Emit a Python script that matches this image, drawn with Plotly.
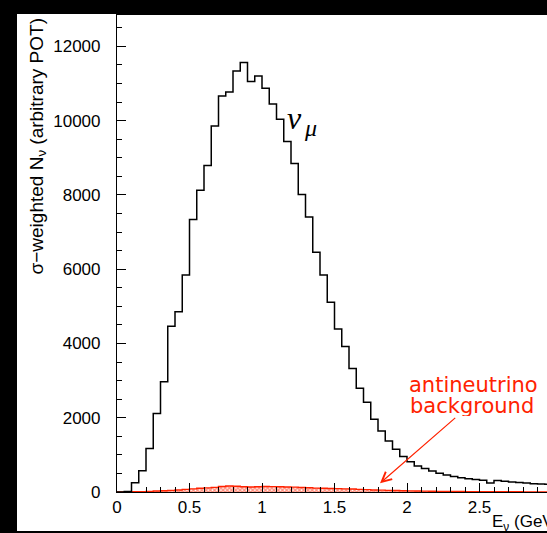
import plotly.graph_objects as go

# ---- data ----
bin_width = 0.05
bin_edges = [round(i * 0.05, 2) for i in range(61)]  # 0 .. 3.0 GeV

numu_counts = [0, 15, 250, 575, 1168, 2115, 2970, 4460, 4850, 5845,
               7336, 8126, 8792, 9853, 10662, 10770, 11336, 11562, 11050, 11201,
               10870, 10450, 10033, 9440, 8846, 8010, 7405, 6455, 5840, 5106,
               4388, 3919, 3325, 2795, 2419, 1961, 1645, 1375, 1150, 953,
               812, 700, 630, 566, 503, 460, 420, 385, 360, 335,
               315, 240, 310, 290, 270, 255, 240, 225, 215, 210]

antinu_counts = [0, 0, 5, 10, 15, 25, 35, 45, 55, 70,
                 85, 100, 110, 125, 150, 160, 155, 140, 135, 140,
                 150, 145, 140, 135, 130, 120, 115, 105, 100, 95,
                 90, 85, 80, 70, 65, 55, 50, 45, 40, 35,
                 30, 27, 24, 21, 18, 16, 14, 12, 11, 10,
                 8, 7, 7, 6, 5, 5, 4, 4, 3, 3]

x_tick_vals = [0, 0.5, 1, 1.5, 2, 2.5, 3]
x_tick_text = ["0", "0.5", "1", "1.5", "2", "2.5", "3"]
y_tick_vals = [0, 2000, 4000, 6000, 8000, 10000, 12000]
y_tick_text = ["0", "2000", "4000", "6000", "8000", "10000", "12000"]

# ---- layout constants ----
W, H = 547, 533
L, R, T, B = 117, 0, 15, 41
X_MAX = 430 / 145.0
Y_MAX = 12843
RED = "#ff2200"
FONT = "Liberation Sans, Arial, sans-serif"
LABEL_FONT = "DejaVu Sans, sans-serif"

fig = go.Figure()

# antineutrino background (hatched)
fig.add_trace(go.Scatter(
    x=bin_edges, y=antinu_counts + [antinu_counts[-1]],
    mode="lines", line=dict(color=RED, width=1.4, shape="hv"),
    fill="tozeroy", fillcolor="rgba(255,255,255,0)",
    fillpattern=dict(shape="x", fgcolor=RED, bgcolor="white", size=3, solidity=0.7),
    hoverinfo="skip", showlegend=False))

# numu histogram
fig.add_trace(go.Scatter(
    x=bin_edges, y=numu_counts + [numu_counts[-1]],
    mode="lines", line=dict(color="black", width=1.5, shape="hv"),
    hoverinfo="skip", showlegend=False))

def px2paper_x(px):
    return (px - L) / (W - L - R)

def px2paper_y(py):
    return (H - B - py) / (H - T - B)

fig.update_layout(
    width=W, height=H,
    margin=dict(l=L, r=R, t=T, b=B, pad=0),
    paper_bgcolor="black", plot_bgcolor="white",
    font=dict(family=FONT, size=17, color="black"),
    showlegend=False,
    xaxis=dict(range=[0, X_MAX], showgrid=False, zeroline=False,
               showline=True, linecolor="black", linewidth=1.2, mirror=True,
               ticks="inside", ticklen=9, tickwidth=1, tickcolor="black",
               tickvals=x_tick_vals, ticktext=x_tick_text,
               tickfont=dict(family=FONT, size=17, color="black"),
               minor=dict(dtick=0.1, ticks="inside", ticklen=5, tickwidth=1, tickcolor="black"),
               ticklabelstandoff=-1),
    yaxis=dict(range=[0, Y_MAX], showgrid=False, zeroline=False,
               showline=True, linecolor="black", linewidth=1.2, mirror=False,
               ticks="inside", ticklen=9, tickwidth=1, tickcolor="black",
               tickvals=y_tick_vals, ticktext=y_tick_text,
               tickfont=dict(family=FONT, size=17, color="black"),
               minor=dict(dtick=500, ticks="inside", ticklen=5, tickwidth=1, tickcolor="black"),
               ticklabelstandoff=12),
)

# white canvas inside black frame
fig.add_shape(type="rect", xref="paper", yref="paper", layer="below",
              x0=px2paper_x(17), x1=px2paper_x(W + 5), y0=px2paper_y(531), y1=px2paper_y(14),
              fillcolor="white", line=dict(width=0))

# nu_mu label
fig.add_annotation(x=(294.5 - L) / 145.0, y=(492 - 118) * 12000 / 445.7,
                   xref="x", yref="y", text="<i>ν</i>", showarrow=False,
                   font=dict(family="Liberation Serif, serif", size=32, color="black"),
                   xanchor="center", yanchor="middle")
fig.add_annotation(x=(310 - L) / 145.0, y=(492 - 128) * 12000 / 445.7,
                   xref="x", yref="y", text="<i>μ</i>", showarrow=False,
                   font=dict(family="Liberation Serif, serif", size=24, color="black"),
                   xanchor="center", yanchor="middle")

# antineutrino background label
fig.add_annotation(x=(473 - L) / 145.0, y=(492 - 385) * 12000 / 445.7,
                   xref="x", yref="y", text="antineutrino", showarrow=False,
                   font=dict(family=LABEL_FONT, size=21, color=RED), height=20,
                   xanchor="center", yanchor="middle")
fig.add_annotation(x=(472 - L) / 145.0, y=(492 - 406) * 12000 / 445.7,
                   xref="x", yref="y", text="background", showarrow=False,
                   font=dict(family=LABEL_FONT, size=21, color=RED), height=20,
                   xanchor="center", yanchor="middle")

# arrow
fig.add_annotation(x=1.814, y=235, ax=2.343, ay=2031,
                   xref="x", yref="y", axref="x", ayref="y",
                   text="", showarrow=True, arrowhead=5, arrowsize=1.6,
                   arrowwidth=1.2, arrowcolor=RED, standoff=0)

# axis titles
fig.add_annotation(x=px2paper_x(490), y=px2paper_y(523), xref="paper", yref="paper",
                   text="E<sub>ν</sub> (GeV)", showarrow=False,
                   font=dict(family=FONT, size=17, color="black"),
                   xanchor="left", yanchor="middle")
fig.add_annotation(x=px2paper_x(37), y=px2paper_y(16), xref="paper", yref="paper",
                   text="σ−weighted N<sub>ν</sub> (arbitrary POT)", showarrow=False,
                   textangle=-90,
                   font=dict(family=FONT, size=19, color="black"),
                   xanchor="center", yanchor="top")

fig.write_html("out.html", config={"displayModeBar": False},
               post_script="document.body.style.margin='0px';document.body.style.overflow='hidden';")
